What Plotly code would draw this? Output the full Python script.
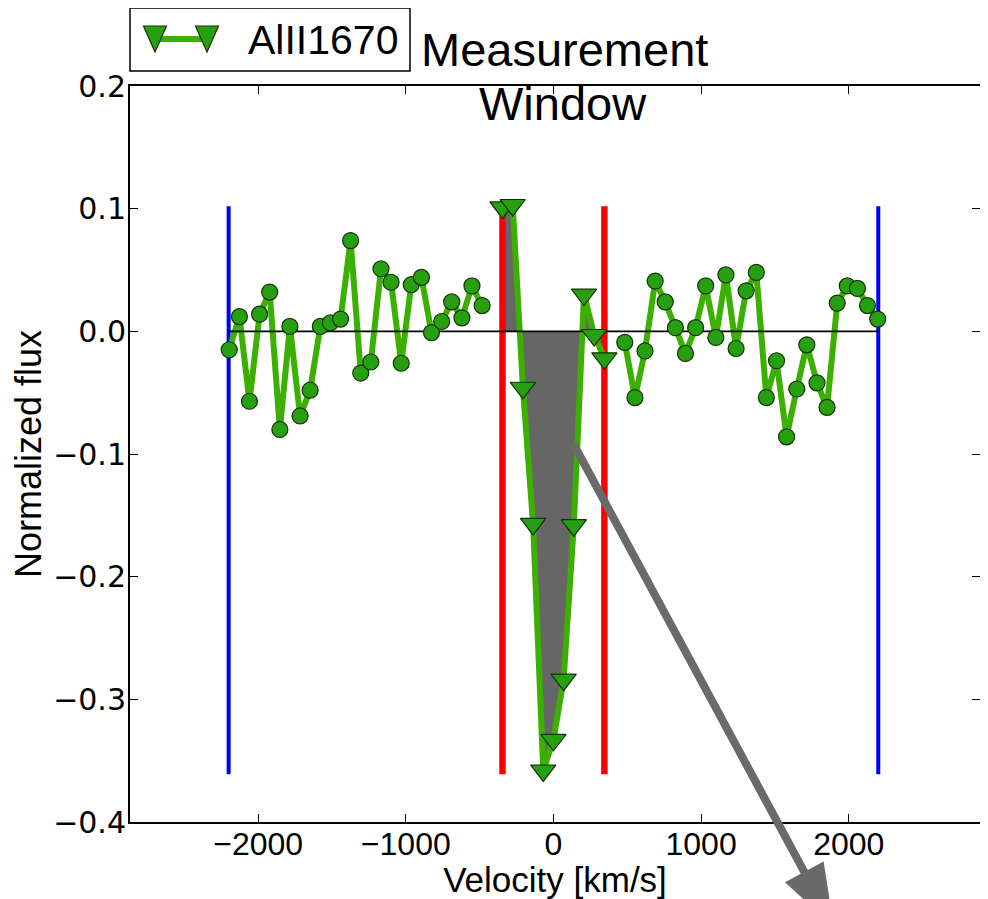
import math
import plotly.graph_objects as go

# ---------------- data ----------------
cont_v_left = [-2196, -2127, -2059, -1990, -1922, -1853, -1785, -1716, -1648, -1579,
               -1511, -1442, -1374, -1305, -1237, -1168, -1100, -1031, -963, -894,
               -826, -757, -689, -620, -552, -483]
cont_flux_left = [-0.015, 0.012, -0.057, 0.014, 0.032, -0.080, 0.004, -0.069, -0.048, 0.004,
                  0.007, 0.010, 0.074, -0.034, -0.025, 0.051, 0.040, -0.026, 0.038, 0.044,
                  -0.001, 0.008, 0.024, 0.011, 0.037, 0.021]
cont_v_right = [483, 552, 620, 689, 757, 826, 894, 963, 1031, 1100,
                1168, 1237, 1305, 1374, 1442, 1511, 1579, 1648, 1716, 1785,
                1853, 1922, 1990, 2059, 2127, 2196]
cont_flux_right = [-0.009, -0.054, -0.016, 0.041, 0.024, 0.003, -0.018, 0.003, 0.037, -0.005,
                   0.046, -0.014, 0.033, 0.048, -0.054, -0.024, -0.086, -0.047, -0.011, -0.042,
                   -0.062, 0.023, 0.037, 0.035, 0.021, 0.010]
line_v = [-345, -276, -207, -138, -69, 0, 69, 138, 207, 276, 345]
line_flux = [0.101, 0.103, -0.046, -0.157, -0.358, -0.333, -0.284, -0.158, 0.030, -0.003, -0.022]

window_edges = [-2200, 2200]
measure_edges = [-345, 345]
edge_ymin, edge_ymax = -0.361, 0.102

x_ticks = [-2000, -1000, 0, 1000, 2000]
y_ticks = [0.2, 0.1, 0.0, -0.1, -0.2, -0.3, -0.4]
line_label = "AlII1670"

# ---------------- styles / geometry ----------------
GREEN_LINE = "#3cb000"
GREEN_FILL = "#26a010"
MARK_EDGE = "#143200"
GRAY = "#666666"
OFF = 8                      # page body margin of the html page
W, H = 988 - OFF, 899 - OFF
ML, MR, MT, MB = 130 - OFF, 8, 0, 899 - 822
PW, PH = W - ML - MR, H - MT - MB
AX_TOP = 86 - OFF
X_RANGE = [-2868, 2889]
Y_RANGE = [-0.4, 0.2]


def px(xs):
    """screen x pixel -> paper x"""
    return (xs - OFF - ML) / PW


def py(ys):
    """screen y pixel -> paper y"""
    return (H - MB - (ys - OFF)) / PH


def vlines(edges):
    xs, ys = [], []
    for e in edges:
        xs += [e, e, None]
        ys += [edge_ymin, edge_ymax, None]
    return xs, ys


fig = go.Figure()

# gray fill between absorption line and zero
fig.add_trace(go.Scatter(x=line_v, y=line_flux, mode="lines", line=dict(width=0, color=GRAY),
                         fill="tozeroy", fillcolor=GRAY, hoverinfo="skip", showlegend=False))

bx, by = vlines(window_edges)
fig.add_trace(go.Scatter(x=bx, y=by, mode="lines", line=dict(color="#0000ff", width=4),
                         showlegend=False))
rx, ry = vlines(measure_edges)
fig.add_trace(go.Scatter(x=rx, y=ry, mode="lines", line=dict(color="#ff0000", width=6.5),
                         showlegend=False))

# green connecting lines
for xs, ys in [(cont_v_left, cont_flux_left), (cont_v_right, cont_flux_right), (line_v, line_flux)]:
    fig.add_trace(go.Scatter(x=xs, y=ys, mode="lines", line=dict(color=GREEN_LINE, width=6),
                             showlegend=False))

# zero line between window edges
fig.add_trace(go.Scatter(x=window_edges, y=[0, 0], mode="lines",
                         line=dict(color="black", width=1.8), showlegend=False))

# markers
for xs, ys in [(cont_v_left, cont_flux_left), (cont_v_right, cont_flux_right)]:
    fig.add_trace(go.Scatter(x=xs, y=ys, mode="markers",
                             marker=dict(symbol="circle", size=16, color=GREEN_FILL,
                                         line=dict(color=MARK_EDGE, width=1.2)),
                             showlegend=False))
fig.add_trace(go.Scatter(x=line_v, y=line_flux, mode="markers", name=line_label,
                         marker=dict(symbol="triangle-down", size=22, color=GREEN_FILL,
                                     line=dict(color=MARK_EDGE, width=1.2)),
                         showlegend=False))

shapes = []
# legend box
shapes.append(dict(type="rect", xref="paper", yref="paper", x0=px(130), x1=px(410),
                   y0=py(71), y1=py(8), line=dict(color="black", width=1.5),
                   fillcolor="white", layer="above"))
# legend glyph
gy = 39
shapes.append(dict(type="line", xref="paper", yref="paper", x0=px(155), x1=px(207),
                   y0=py(gy), y1=py(gy), line=dict(color=GREEN_LINE, width=6), layer="above"))
for cx in (155, 207):
    path = "M {} {} L {} {} L {} {} Z".format(px(cx - 11.5), py(gy - 13), px(cx + 11.5), py(gy - 13),
                                                px(cx), py(gy + 13))
    shapes.append(dict(type="path", xref="paper", yref="paper", path=path,
                       fillcolor=GREEN_FILL, line=dict(color=MARK_EDGE, width=1.2), layer="above"))

# arrow (screen pixel geometry)
sx, sy = 573.0, 443.0
tx, ty = 833.7, 926.5
L = math.hypot(tx - sx, ty - sy)
ux, uy = (tx - sx) / L, (ty - sy) / L
nx, ny = uy, -ux
hl, hw, sw = 62.0, 22.0, 4.0
bxp, byp = tx - hl * ux, ty - hl * uy
pts = [(sx + sw * nx, sy + sw * ny), (bxp + sw * nx, byp + sw * ny), (bxp + hw * nx, byp + hw * ny),
       (tx, ty), (bxp - hw * nx, byp - hw * ny), (bxp - sw * nx, byp - sw * ny),
       (sx - sw * nx, sy - sw * ny)]
apath = "M " + " L ".join("{:.5f} {:.5f}".format(px(a), py(b)) for a, b in pts) + " Z"
shapes.append(dict(type="path", xref="paper", yref="paper", path=apath,
                   fillcolor="#6a6a6a", line=dict(width=0), layer="above"))

annotations = [
    dict(text=line_label, xref="paper", yref="paper", x=px(246), y=py(40), xanchor="left",
         yanchor="middle", showarrow=False, font=dict(family="Liberation Sans", size=41, color="black")),
    dict(text="Measurement", xref="paper", yref="paper", x=px(564), y=py(49), xanchor="center",
         yanchor="middle", showarrow=False, font=dict(family="Liberation Sans", size=47, color="black")),
    dict(text="Window", xref="paper", yref="paper", x=px(563), y=py(103), xanchor="center",
         yanchor="middle", showarrow=False, font=dict(family="Liberation Sans", size=47, color="black")),
]

fig.update_layout(
    width=W, height=H,
    margin=dict(l=ML, r=MR, t=MT, b=MB, autoexpand=False),
    paper_bgcolor="white", plot_bgcolor="white",
    showlegend=False,
    shapes=shapes, annotations=annotations,
    xaxis=dict(range=X_RANGE, tickvals=x_ticks, ticktext=[("\u2212" + str(-v)) if v < 0 else str(v) for v in x_ticks],
               ticks="inside", ticklen=8, tickwidth=1, tickcolor="black",
               showline=True, linecolor="black", linewidth=2, mirror="ticks",
               showgrid=False, zeroline=False, automargin=False, ticklabelstandoff=-7,
               tickfont=dict(family="Liberation Sans", size=32, color="black"),
               title=dict(text="Velocity [km/s]", font=dict(family="Liberation Sans", size=35, color="black"),
                          standoff=11)),
    yaxis=dict(range=Y_RANGE, domain=[0, (H - MB - AX_TOP) / PH], tickvals=y_ticks,
               ticktext=[("\u2212" if v < 0 else "") + "{:.1f}".format(abs(v)) for v in y_ticks],
               ticks="inside", ticklen=8, tickwidth=1, tickcolor="black",
               showline=True, linecolor="black", linewidth=2, mirror="ticks",
               showgrid=False, zeroline=False, automargin=False, ticklabelstandoff=-4,
               tickfont=dict(family="DejaVu Sans", size=30, color="black"),
               title=dict(text="Normalized flux", font=dict(family="Liberation Sans", size=36, color="black"),
                          standoff=10)),
)

fig.write_html("out.html")
